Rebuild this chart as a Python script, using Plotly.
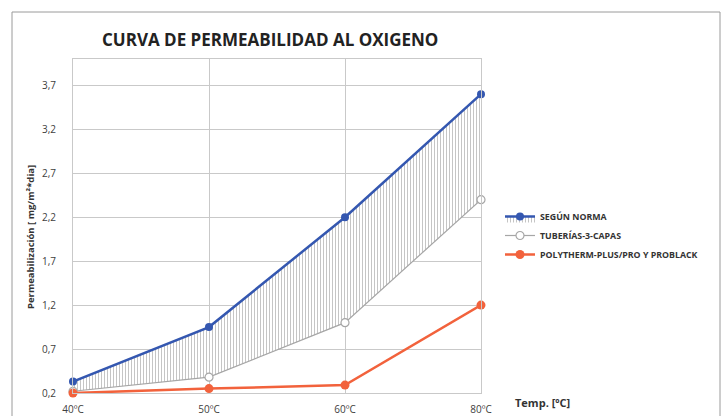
import plotly.graph_objects as go

# Temperatures and oxygen permeability values per pipe type
temperaturas = ["40ºC", "50ºC", "60ºC", "80ºC"]
segun_norma = [0.33, 0.95, 2.2, 3.6]
tuberias_3_capas = [0.22, 0.38, 1.0, 2.4]
polytherm = [0.2, 0.25, 0.29, 1.2]
y_ticks = [0.2, 0.7, 1.2, 1.7, 2.2, 2.7, 3.2, 3.7]

AZUL = "#3457b0"
GRIS = "#a6a6a6"
NARANJA = "#f2623c"
FONT = "Open Sans, sans-serif"

fig = go.Figure()

# lower edge of the hatched band
fig.add_trace(go.Scatter(
    x=temperaturas, y=tuberias_3_capas, name="<b>TUBERÍAS-3-CAPAS</b>",
    mode="lines+markers", legendrank=2, cliponaxis=False,
    line=dict(color=GRIS, width=1.2),
    marker=dict(symbol="circle", size=8, color="white",
                line=dict(color=GRIS, width=1.2)),
))
# upper edge, hatched down to the previous trace
fig.add_trace(go.Scatter(
    x=temperaturas, y=segun_norma, name="<b>SEGÚN NORMA</b>",
    mode="lines+markers", legendrank=1, cliponaxis=False,
    fill="tonexty",
    fillpattern=dict(shape="|", size=3, solidity=0.35,
                     fgcolor="#8c8c8c", bgcolor="white"),
    line=dict(color=AZUL, width=2.5),
    marker=dict(symbol="circle", size=8, color=AZUL),
))
fig.add_trace(go.Scatter(
    x=temperaturas, y=polytherm, name="<b>POLYTHERM-PLUS/PRO Y PROBLACK</b>",
    mode="lines+markers", legendrank=3, cliponaxis=False,
    line=dict(color=NARANJA, width=2.5),
    marker=dict(symbol="circle", size=9, color=NARANJA),
))

L, R, T, B = 73, 241, 59, 23
PW, PH = 722 - L - R, 416 - T - B

def px_x(v):
    return (v - L) / PW

def px_y(v):
    return (416 - B - v) / PH

fig.update_layout(
    width=722, height=416,
    margin=dict(l=L, r=R, t=T, b=B, autoexpand=False),
    paper_bgcolor="white", plot_bgcolor="white",
    separators=", ",
    font=dict(family=FONT, size=10, color="#404040"),
    showlegend=True,
    legend=dict(
        xref="container", yref="container",
        x=500 / 722, y=1 - 202 / 416, xanchor="left", yanchor="top",
        traceorder="normal",
        font=dict(family=FONT, size=8.8, color="#333333"),
        bgcolor="rgba(0,0,0,0)", tracegroupgap=0, itemwidth=30,
    ),
    xaxis=dict(
        type="category", range=[0, 3],
        showgrid=True, gridcolor="#c9c9c9", gridwidth=1,
        showline=True, linecolor="#c9c9c9", mirror=True,
        ticks="", ticklabelstandoff=7,
        tickfont=dict(family=FONT, size=10, color="#404040"),
        zeroline=False,
    ),
    yaxis=dict(
        range=[0.2, 4.0], tickvals=y_ticks, tickformat=".1f",
        showgrid=True, gridcolor="#c9c9c9", gridwidth=1,
        showline=True, linecolor="#c9c9c9", mirror=True,
        ticks="", ticklabelstandoff=14,
        tickfont=dict(family=FONT, size=10, color="#404040"),
        zeroline=False,
    ),
    shapes=[dict(
        type="rect", xref="paper", yref="paper",
        x0=px_x(12), x1=px_x(720), y0=px_y(430), y1=px_y(12),
        line=dict(color="#9a9a9a", width=1), fillcolor="rgba(0,0,0,0)",
        layer="below",
    )],
    annotations=[
        dict(text="<b>CURVA DE PERMEABILIDAD AL OXIGENO</b>",
             xref="paper", yref="paper", x=px_x(270), y=px_y(40),
             showarrow=False, xanchor="center", yanchor="middle",
             font=dict(family=FONT, size=17, color="#222222")),
        dict(text="<b>Permeabilización [ mg/m²*dia]</b>",
             xref="paper", yref="paper", x=px_x(30), y=px_y(237),
             showarrow=False, textangle=-90, xanchor="center", yanchor="middle",
             font=dict(family=FONT, size=9.5, color="#333333")),
        dict(text="<b>Temp. [ºC]</b>",
             xref="paper", yref="paper", x=px_x(513), y=px_y(403),
             showarrow=False, xanchor="left", yanchor="middle",
             font=dict(family=FONT, size=11, color="#333333")),
    ],
)

fig.write_html("out.html")
